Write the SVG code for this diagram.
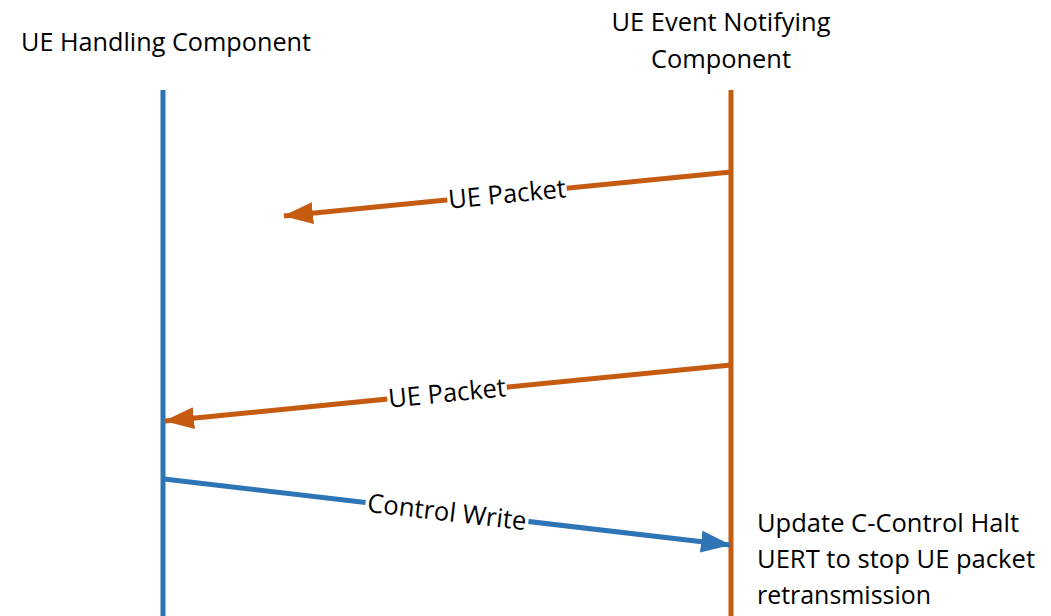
<svg xmlns="http://www.w3.org/2000/svg" width="1051" height="616" viewBox="0 0 1051 616">
  <style>
    text { font-family: "Open Sans", "Noto Sans", "Liberation Sans", sans-serif; font-size: 26px; fill: #000; }
    .blue { stroke: #2E75B6; stroke-width: 5; fill: none; }
    .orange { stroke: #C55A11; stroke-width: 5; fill: none; }
    .mask { fill: #fff; }
  </style>
  <defs>
    <marker id="headO" markerUnits="userSpaceOnUse" markerWidth="30" markerHeight="22" refX="29" refY="11" orient="auto">
      <path d="M0,0 L30,11 L0,22 Z" fill="#C55A11"/>
    </marker>
    <marker id="headB" markerUnits="userSpaceOnUse" markerWidth="30" markerHeight="22" refX="29" refY="11" orient="auto">
      <path d="M0,0 L30,11 L0,22 Z" fill="#2E75B6"/>
    </marker>
  </defs>
  <rect width="1051" height="616" fill="#fff"/>

  <g id="ue-handling">
    <text x="21" y="51" textLength="290" lengthAdjust="spacingAndGlyphs">UE Handling Component</text>
    <line class="blue" x1="163" y1="90" x2="163" y2="616"/>
  </g>

  <g id="ue-event-notifying">
    <text x="721" y="31" text-anchor="middle" textLength="219" lengthAdjust="spacingAndGlyphs">UE Event Notifying</text>
    <text x="721" y="68" text-anchor="middle" textLength="140" lengthAdjust="spacingAndGlyphs">Component</text>
    <line class="orange" x1="731" y1="90" x2="731" y2="616"/>
    <text x="757" y="532" textLength="262" lengthAdjust="spacingAndGlyphs">Update C-Control Halt</text>
    <text x="757" y="568" textLength="278" lengthAdjust="spacingAndGlyphs">UERT to stop UE packet</text>
    <text x="757" y="604" textLength="174" lengthAdjust="spacingAndGlyphs">retransmission</text>
  </g>

  <g id="connectors">
    <g id="msg1">
      <line class="orange" x1="731" y1="172" x2="284" y2="216" marker-end="url(#headO)"/>
      <g transform="translate(507,194) rotate(-5.6)">
        <rect class="mask" x="-60" y="-14" width="120" height="28"/>
        <text x="0" y="9" text-anchor="middle" textLength="118" lengthAdjust="spacingAndGlyphs">UE Packet</text>
      </g>
    </g>
    <g id="msg2">
      <line class="orange" x1="731" y1="365" x2="165" y2="421" marker-end="url(#headO)"/>
      <g transform="translate(447,393) rotate(-5.65)">
        <rect class="mask" x="-60" y="-14" width="120" height="28"/>
        <text x="0" y="9" text-anchor="middle" textLength="118" lengthAdjust="spacingAndGlyphs">UE Packet</text>
      </g>
    </g>
    <g id="msg3">
      <line class="blue" x1="164" y1="479" x2="730" y2="545" marker-end="url(#headB)"/>
      <g transform="translate(447,512) rotate(6.65)">
        <rect class="mask" x="-82" y="-14" width="164" height="28"/>
        <text x="0" y="9" text-anchor="middle" textLength="160" lengthAdjust="spacingAndGlyphs">Control Write</text>
      </g>
    </g>
  </g>
</svg>
